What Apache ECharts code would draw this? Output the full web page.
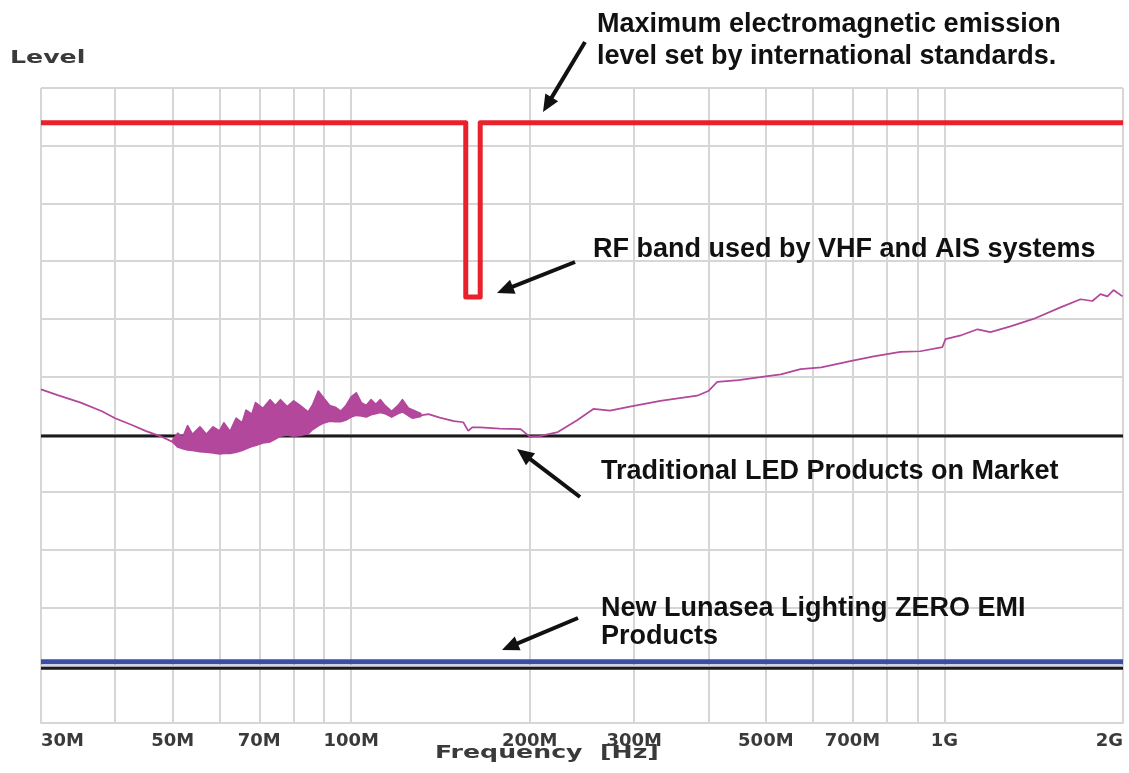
<!DOCTYPE html>
<html><head><meta charset="utf-8">
<script src="https://cdn.jsdelivr.net/npm/echarts@6/dist/echarts.min.js"></script>
<style>html,body{margin:0;padding:0;background:#fff}#c{width:1129px;height:773px}</style>
</head><body><div id="c"></div>
<script>
// ---- data (frequency in MHz, level in grid units) ----
const xTickValues = [30,40,50,60,70,80,90,100,200,300,400,500,600,700,800,900,1000,2000];
const xLabelValues = [30,50,70,100,200,300,500,700,1000,2000];
const xLabelText = ['30M','50M','70M','100M','200M','300M','500M','700M','1G','2G'];

const limitFreq  = [30, 156, 156, 165, 165, 2000];
const limitLevel = [10.4, 10.4, 7.38, 7.38, 10.4, 10.4];

const traditionalLevel = 4.97;
const zeroEmiLevel = 1.06;
const baselineLevel = 0.95;

const traceFreqA  = [30, 32, 35, 38, 40, 43, 45, 47.6, 50];
const traceLevelA = [5.78, 5.68, 5.55, 5.40, 5.28, 5.15, 5.06, 4.97, 4.87];

const bandFreq = [50, 51, 52, 53, 54, 55.6, 57, 58.5, 60, 61, 62.5, 64, 65.5, 66.5, 68, 69, 71, 73, 74.5, 76, 78, 80, 82, 84.6, 86, 88, 90, 92, 94, 96, 98, 100, 102, 104, 106, 108, 110, 112, 114, 117, 120, 122, 125, 127, 131];
const bandLow  = [4.87, 4.78, 4.75, 4.73, 4.72, 4.70, 4.69, 4.68, 4.66, 4.67, 4.67, 4.69, 4.72, 4.75, 4.79, 4.81, 4.85, 4.87, 4.92, 4.97, 4.99, 4.97, 4.98, 5.01, 5.08, 5.15, 5.20, 5.23, 5.22, 5.22, 5.25, 5.30, 5.33, 5.32, 5.30, 5.34, 5.36, 5.38, 5.36, 5.30, 5.36, 5.39, 5.32, 5.28, 5.31];
const bandHigh = [4.90, 5.02, 4.95, 5.15, 5.00, 5.13, 5.00, 5.13, 5.06, 5.20, 5.05, 5.28, 5.20, 5.42, 5.35, 5.55, 5.45, 5.60, 5.50, 5.60, 5.48, 5.58, 5.50, 5.39, 5.50, 5.75, 5.62, 5.50, 5.47, 5.40, 5.50, 5.65, 5.72, 5.55, 5.50, 5.60, 5.52, 5.60, 5.50, 5.40, 5.50, 5.60, 5.45, 5.42, 5.36];

const traceFreqB  = [131, 135, 141, 149, 154.5, 157.5, 160, 165, 178, 193, 200, 208, 223, 240, 256, 273, 295, 332, 383, 400, 414, 450, 489, 530, 572, 620, 694, 760, 843, 911, 992, 1004, 1070, 1137, 1196, 1292, 1413, 1569, 1696, 1776, 1833, 1883, 1928, 1996];
const traceLevelB = [5.33, 5.35, 5.29, 5.23, 5.21, 5.06, 5.12, 5.12, 5.10, 5.09, 4.96, 4.97, 5.04, 5.24, 5.44, 5.41, 5.48, 5.58, 5.67, 5.75, 5.91, 5.94, 5.99, 6.04, 6.13, 6.16, 6.27, 6.35, 6.43, 6.44, 6.51, 6.65, 6.72, 6.82, 6.77, 6.87, 7.00, 7.20, 7.34, 7.31, 7.43, 7.39, 7.50, 7.39];

// ---- build ----
const zip = (a, b) => a.map((v, i) => [v, b[i]]);
const PURPLE = '#b2479c';

function arrow(x1, y1, x2, y2) {
  const dx = x2 - x1, dy = y2 - y1, len = Math.hypot(dx, dy);
  const ux = dx / len, uy = dy / len, L = 17, W = 7.5;
  const bx = x2 - ux * L, by = y2 - uy * L;
  return [
    {type: 'line', z: 100, shape: {x1, y1, x2: bx + ux * 2, y2: by + uy * 2}, style: {stroke: '#111', lineWidth: 4}},
    {type: 'polygon', z: 100, shape: {points: [[x2, y2], [bx - uy * W, by + ux * W], [bx + uy * W, by - ux * W]]}, style: {fill: '#111'}}
  ];
}
function label(text, x, y) {
  return {type: 'text', z: 100, x, y, style: {text, font: 'bold 27px "Liberation Sans", Arial, sans-serif', fill: '#111', verticalAlign: 'middle'}};
}

const bandData = bandFreq.map((f, i) => [f, bandLow[i], bandHigh[i]]);

const chart = echarts.init(document.getElementById('c'));
chart.setOption({
  animation: false,
  backgroundColor: '#fff',
  grid: {left: 41, right: 6, top: 88, bottom: 50},
  xAxis: {
    type: 'log', logBase: 10, min: 30, max: 2000,
    axisLine: {show: true, lineStyle: {color: '#d6d6d6', width: 2}},
    axisTick: {show: false, customValues: xTickValues},
    axisLabel: {
      customValues: xLabelValues,
      formatter: v => { const i = xLabelValues.findIndex(t => Math.abs(t - v) / t < 1e-6); return i >= 0 ? xLabelText[i] : ''; },
      alignMinLabel: 'left', alignMaxLabel: 'right',
      fontFamily: 'DejaVu Sans', fontWeight: 'bold', fontSize: 18, color: '#3a3a3a', margin: 9
    },
    splitLine: {show: true, lineStyle: {color: '#d6d6d6', width: 2}}
  },
  yAxis: {
    type: 'value', min: 0, max: 11, interval: 1,
    axisLine: {show: false}, axisTick: {show: false}, axisLabel: {show: false},
    splitLine: {show: true, lineStyle: {color: '#d6d6d6', width: 2}}
  },
  series: [
    {type: 'line', data: [[30, traditionalLevel], [2000, traditionalLevel]], showSymbol: false, lineStyle: {color: '#1a1a1a', width: 3}, z: 2},
    {type: 'line', data: [[30, baselineLevel], [2000, baselineLevel]], showSymbol: false, lineStyle: {color: '#1a1a1a', width: 3}, z: 2},
    {type: 'line', data: [[30, zeroEmiLevel], [2000, zeroEmiLevel]], showSymbol: false, lineStyle: {color: '#3b4ea6', width: 5}, z: 3},
    {type: 'line', data: zip(traceFreqA, traceLevelA), showSymbol: false, lineStyle: {color: PURPLE, width: 1.7}, z: 4},
    {type: 'custom', data: bandData, encode: {x: 0, y: [1, 2]}, z: 4,
     renderItem: (params, api) => {
       if (params.dataIndex !== 0) return null;
       const up = bandData.map(d => api.coord([d[0], d[2]]));
       const lo = bandData.map(d => api.coord([d[0], d[1]])).reverse();
       return {type: 'polygon', shape: {points: up.concat(lo)},
               style: {fill: PURPLE, stroke: PURPLE, lineWidth: 1.7, lineJoin: 'round'}};
     }},
    {type: 'line', data: zip(traceFreqB, traceLevelB), showSymbol: false, lineStyle: {color: PURPLE, width: 1.7}, z: 4},
    {type: 'line', data: zip(limitFreq, limitLevel), showSymbol: false, lineStyle: {color: '#e8222b', width: 5, join: 'round'}, z: 5}
  ],
  graphic: [
    {type: 'text', z: 100, x: 10, y: 58, scaleX: 1.4, style: {text: 'Level', font: 'bold 18px "DejaVu Sans"', fill: '#3a3a3a', verticalAlign: 'middle'}},
    {type: 'text', z: 100, x: 435, y: 753, scaleX: 1.4, style: {text: 'Frequency  [Hz]', font: 'bold 18px "DejaVu Sans"', fill: '#3a3a3a', verticalAlign: 'middle'}},
    label('Maximum electromagnetic emission', 597, 25),
    label('level set by international standards.', 597, 57),
    label('RF band used by VHF and AIS systems', 593, 250),
    label('Traditional LED Products on Market', 601, 472),
    label('New Lunasea Lighting ZERO EMI', 601, 609),
    label('Products', 601, 637),
    ...arrow(585, 42, 543, 112),
    ...arrow(575, 262, 497, 293),
    ...arrow(580, 497, 517, 449),
    ...arrow(578, 618, 502, 650)
  ]
});
</script></body></html>
